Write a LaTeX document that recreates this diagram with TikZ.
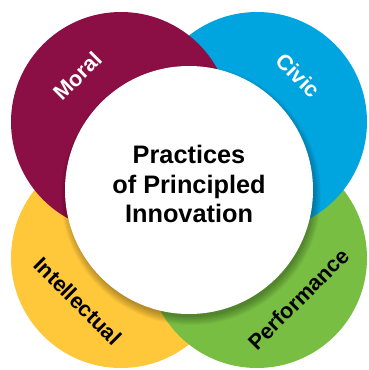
\documentclass[tikz,border=0pt]{standalone}
\usepackage{fontspec}
\setmainfont{Liberation Sans}
\definecolor{pimaroon}{HTML}{8B0E45}
\definecolor{pigold}{HTML}{FFC73A}
\definecolor{piblue}{HTML}{00A5E0}
\definecolor{pigreen}{HTML}{78BE43}
\begin{document}
\begin{tikzpicture}[x=1pt,y=-1pt,
	ringtext/.style={font=\bfseries\fontsize{21.7}{21.7}\selectfont},
	hubtext/.style={font=\bfseries\fontsize{25.3}{29.5}\selectfont,align=center}]
		\useasboundingbox (0,0) rectangle (368,370);
		\fill [color=pigold] (121,258) circle (110);
		\fill [color=pigreen] (257,258) circle (110);
		\fill [color=piblue] (257,122) circle (110);
		\fill [color=pimaroon] (121,122) circle (110);
		% soft shadow under the hub
		\foreach \k in {1,...,9}
			\fill [color=black,opacity=0.035] (191,195) circle (121+\k);
		\fill [color=white] (189,190) circle (124);
		\node [hubtext] (hub) at (189,184) {Practices\\of Principled\\Innovation};
		\node [ringtext,color=white,rotate=45] (moral) at (77.5,76) {Moral};
		\node [ringtext,color=white,rotate=-45] (civic) at (298,75) {Civic};
		\node [ringtext,color=black,rotate=-45] (intellectual) at (78,301) {Intellectual};
		\node [ringtext,color=black,rotate=45] (performance) at (298.5,299) {Performance};
	\end{tikzpicture}
\end{document}
